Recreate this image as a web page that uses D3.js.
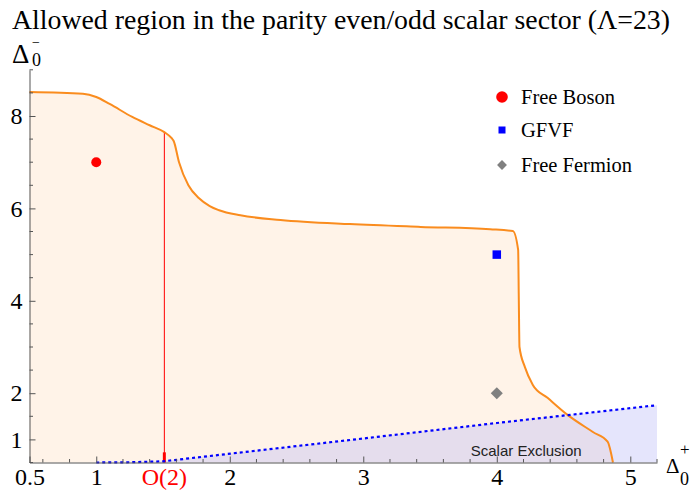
<!DOCTYPE html>
<meta charset="utf-8">
<title>Allowed region, parity even/odd scalar sector</title>
<style type="text/css">
	body { margin: 0; background: white; }
	text { font-family: "Liberation Serif", "Times New Roman", serif; }
	.axis path, .axis line { stroke: #555; }
</style>
<body>
<script src="https://d3js.org/d3.v7.min.js"></script>
<script>

// boundary of the allowed region (Delta0+ , Delta0-)
var boundaryX = [0.5, 0.9, 1.0, 1.1, 1.27, 1.4, 1.51, 1.565, 1.58, 1.62, 1.69, 1.77, 1.85, 1.92, 2.08, 2.38, 2.9, 3.43, 3.95, 4.12, 4.16, 4.165, 4.17, 4.21, 4.27, 4.38, 4.53, 4.72, 4.83, 4.87];
var boundaryY = [8.52, 8.48, 8.41, 8.26, 7.98, 7.8, 7.65, 7.52, 7.46, 7.0, 6.5, 6.22, 6.05, 5.96, 5.85, 5.75, 5.66, 5.6, 5.55, 5.51, 5.1, 4.02, 3.0, 2.57, 2.18, 1.9, 1.53, 1.16, 0.95, 0.5];

// scalar exclusion line
var exclX = [1.0, 1.25, 1.5, 3.0, 4.0, 5.2];
var exclY = [0.5, 0.505, 0.525, 1.02, 1.355, 1.74];

// O(2) marker
var o2X = 1.51;
var o2Top = 7.65;

// free theories
var pointNames = ["Free Boson", "GFVF", "Free Fermion"];
var pointX = [1.0, 4.0, 4.0];
var pointY = [7.0, 5.0, 2.0];
var pointColors = ["#ff0000", "#0000ff", "#808080"];

// ticks
var xMajor = [0.5, 1, 2, 3, 4, 5];
var yMajor = [1, 2, 4, 6, 8];

var width = 694, height = 490;
var svg = d3.select("body").append("svg")
	.attr("width", width)
	.attr("height", height);

var x = d3.scaleLinear().domain([0.5, 5.2]).range([29.5, 657]);
var y = d3.scaleLinear().domain([0.5, 9]).range([462.5, 69.8]);

// marker shapes: circle, square, diamond (rotated square)
function marker(sel, i, sizes) {
	if (i == 0) {
		sel.append("circle").attr("r", sizes[0]).attr("fill", pointColors[0]);
	} else if (i == 1) {
		sel.append("rect").attr("x", -sizes[1] / 2).attr("y", -sizes[1] / 2)
			.attr("width", sizes[1]).attr("height", sizes[1]).attr("fill", pointColors[1]);
	} else {
		sel.append("rect").attr("x", -sizes[2] / 2).attr("y", -sizes[2] / 2)
			.attr("width", sizes[2]).attr("height", sizes[2])
			.attr("transform", "rotate(45)").attr("fill", pointColors[2]);
	}
}

// allowed region fill
var region = boundaryX.map(function(d, i) { return [d, boundaryY[i]]; });
region.unshift([0.5, 0.5]);
region.push([boundaryX[boundaryX.length - 1], 0.5]);

var area = d3.line().x(function(d) { return x(d[0]); }).y(function(d) { return y(d[1]); });

svg.append("path")
	.attr("d", area(region) + "Z")
	.style("fill", "#fff3e8")
	.style("stroke", "none");

// scalar exclusion fill
var excl = exclX.map(function(d, i) { return [d, exclY[i]]; });
var exclPoly = excl.slice();
exclPoly.push([5.2, 0.5]);
svg.append("path")
	.attr("d", area(exclPoly) + "Z")
	.style("fill", "rgb(180,180,245)")
	.style("fill-opacity", 0.35)
	.style("stroke", "none");

// O(2) line
svg.append("line")
	.attr("x1", x(o2X)).attr("x2", x(o2X))
	.attr("y1", y(0.5)).attr("y2", y(o2Top))
	.attr("stroke", "red").attr("stroke-width", 1);
svg.append("line")
	.attr("x1", x(o2X)).attr("x2", x(o2X))
	.attr("y1", y(0.5)).attr("y2", y(0.72))
	.attr("stroke", "red").attr("stroke-width", 3);

// boundary line
svg.append("path")
	.datum(region.slice(1, region.length - 1))
	.attr("d", d3.line().curve(d3.curveMonotoneX)
		.x(function(d) { return x(d[0]); })
		.y(function(d) { return y(d[1]); }))
	.style("fill", "none")
	.attr("stroke", "#fa8c1e")
	.attr("stroke-width", 2);

// exclusion dotted line
svg.append("path")
	.datum(excl)
	.attr("d", area)
	.style("fill", "none")
	.attr("stroke", "#0000ff")
	.attr("stroke-width", 2.2)
	.attr("stroke-dasharray", "3,3");

svg.append("text")
	.attr("x", x(4.22)).attr("y", y(0.64))
	.style("font-family", "'Liberation Sans', Arial, sans-serif")
	.style("font-size", "15px")
	.style("fill", "#222")
	.attr("text-anchor", "middle")
	.text("Scalar Exclusion");

// axes
var xMinor = d3.range(6, 53, 2).map(function(d) { return d / 10; })
	.filter(function(d) { return xMajor.indexOf(d) < 0; });
var yMinor = d3.range(1, 19).map(function(d) { return d / 2; })
	.filter(function(d) { return yMajor.indexOf(d) < 0; });

var xAxis = svg.append("g").attr("class", "axis")
	.attr("transform", "translate(0," + y(0.5) + ")")
	.call(d3.axisBottom(x).tickValues(xMajor).tickSize(-6).tickSizeOuter(0).tickPadding(5)
		.tickFormat(function(d) { return d; }));
xAxis.append("g").selectAll("line").data(xMinor).enter().append("line")
	.attr("x1", function(d) { return x(d); }).attr("x2", function(d) { return x(d); })
	.attr("y1", 0).attr("y2", -3.5).attr("stroke", "#555");

var yAxis = svg.append("g").attr("class", "axis")
	.attr("transform", "translate(" + x(0.5) + ",0)")
	.call(d3.axisLeft(y).tickValues(yMajor).tickSize(-6).tickSizeOuter(0).tickPadding(7));
yAxis.append("g").selectAll("line").data(yMinor).enter().append("line")
	.attr("x1", 0).attr("x2", 3.5)
	.attr("y1", function(d) { return y(d); }).attr("y2", function(d) { return y(d); })
	.attr("stroke", "#555");

svg.selectAll(".axis text")
	.style("font-family", "'Liberation Serif', 'Times New Roman', serif")
	.style("font-size", "24px")
	.attr("fill", "black");

svg.append("text")
	.attr("x", x(o2X)).attr("y", y(0.5) + 5)
	.attr("dy", "0.71em")
	.attr("text-anchor", "middle")
	.style("font-size", "24px")
	.attr("fill", "red")
	.text("O(2)");

// points
svg.append("g").selectAll("g").data(pointNames).enter().append("g")
	.attr("transform", function(d, i) { return "translate(" + x(pointX[i]) + "," + y(pointY[i]) + ")"; })
	.each(function(d, i) { marker(d3.select(this), i, [5, 8.5, 8.5]); });

// legend
var legendY = [0, 33, 68];
var legend = svg.append("g").attr("transform", "translate(502,97)");
legend.selectAll("g").data(pointNames).enter().append("g")
	.attr("transform", function(d, i) { return "translate(0," + legendY[i] + ")"; })
	.each(function(d, i) { marker(d3.select(this), i, [5.8, 7, 7]); });
legend.selectAll("text").data(pointNames).enter().append("text")
	.attr("x", 19).attr("y", function(d, i) { return legendY[i]; })
	.attr("dy", "0.32em")
	.style("font-size", "20.5px")
	.text(function(d) { return d; });

// title and axis labels
svg.append("text")
	.attr("x", 12).attr("y", 29)
	.style("font-size", "27.8px")
	.text("Allowed region in the parity even/odd scalar sector (\u039B=23)");

var yLab = svg.append("text").attr("x", 12).attr("y", 63);
yLab.append("tspan").style("font-size", "27px").text("\u0394");
yLab.append("tspan").attr("x", 32).attr("y", 66).style("font-size", "18px").text("0");
yLab.append("tspan").attr("x", 32).attr("y", 46.5).style("font-size", "14px").text("\u2212");

var xLab = svg.append("text").attr("x", 666).attr("y", 473);
xLab.append("tspan").style("font-size", "21px").text("\u0394");
xLab.append("tspan").attr("x", 680).attr("y", 485).style("font-size", "18px").text("0");
xLab.append("tspan").attr("x", 680).attr("y", 455).style("font-size", "17px").text("+");

</script>
</body>
